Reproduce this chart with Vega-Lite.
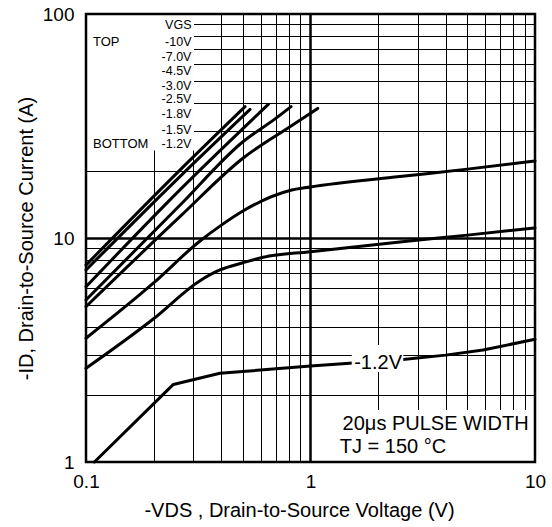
{
  "$schema": "https://vega.github.io/schema/vega-lite/v6.json",
  "width": 449,
  "height": 448,
  "autosize": "none",
  "padding": {"left": 86, "top": 14, "right": 17, "bottom": 65},
  "background": "white",
  "config": {"view": {"stroke": null}, "font": "Liberation Sans"},
  "datasets": {
    "curves": [
      {"vgs": "-10V", "vds": 0.1, "id": 7.57},
      {"vgs": "-10V", "vds": 0.262, "id": 20.1},
      {"vgs": "-10V", "vds": 0.511, "id": 38.6},
      {"vgs": "-7.0V", "vds": 0.1, "id": 7.2},
      {"vgs": "-7.0V", "vds": 0.262, "id": 18.8},
      {"vgs": "-7.0V", "vds": 0.538, "id": 37.5},
      {"vgs": "-4.5V", "vds": 0.1, "id": 6.06},
      {"vgs": "-4.5V", "vds": 0.262, "id": 16.4},
      {"vgs": "-4.5V", "vds": 0.649, "id": 39.5},
      {"vgs": "-3.0V", "vds": 0.1, "id": 5.29},
      {"vgs": "-3.0V", "vds": 0.262, "id": 14.0},
      {"vgs": "-3.0V", "vds": 0.5, "id": 26.9},
      {"vgs": "-3.0V", "vds": 0.7, "id": 34.2},
      {"vgs": "-3.0V", "vds": 0.819, "id": 38.6},
      {"vgs": "-2.5V", "vds": 0.1, "id": 4.94},
      {"vgs": "-2.5V", "vds": 0.262, "id": 12.45},
      {"vgs": "-2.5V", "vds": 0.5, "id": 22.7},
      {"vgs": "-2.5V", "vds": 0.81, "id": 31.4},
      {"vgs": "-2.5V", "vds": 1.077, "id": 37.9},
      {"vgs": "-1.8V", "vds": 0.1, "id": 3.57},
      {"vgs": "-1.8V", "vds": 0.2, "id": 6.3},
      {"vgs": "-1.8V", "vds": 0.322, "id": 9.7},
      {"vgs": "-1.8V", "vds": 0.395, "id": 11.3},
      {"vgs": "-1.8V", "vds": 0.5, "id": 13.2},
      {"vgs": "-1.8V", "vds": 0.81, "id": 16.3},
      {"vgs": "-1.8V", "vds": 1, "id": 16.9},
      {"vgs": "-1.8V", "vds": 2.5, "id": 18.8},
      {"vgs": "-1.8V", "vds": 5, "id": 20.3},
      {"vgs": "-1.8V", "vds": 10, "id": 22.1},
      {"vgs": "-1.5V", "vds": 0.1, "id": 2.62},
      {"vgs": "-1.5V", "vds": 0.2, "id": 4.36},
      {"vgs": "-1.5V", "vds": 0.322, "id": 6.45},
      {"vgs": "-1.5V", "vds": 0.395, "id": 7.2},
      {"vgs": "-1.5V", "vds": 0.5, "id": 7.75},
      {"vgs": "-1.5V", "vds": 0.615, "id": 8.2},
      {"vgs": "-1.5V", "vds": 1, "id": 8.69},
      {"vgs": "-1.5V", "vds": 2.5, "id": 9.6},
      {"vgs": "-1.5V", "vds": 5, "id": 10.3},
      {"vgs": "-1.5V", "vds": 10, "id": 11.1}
    ],
    "bottomCurve": [
      {"vgs": "-1.2V", "vds": 0.109, "id": 1.0},
      {"vgs": "-1.2V", "vds": 0.245, "id": 2.22},
      {"vgs": "-1.2V", "vds": 0.395, "id": 2.49},
      {"vgs": "-1.2V", "vds": 1, "id": 2.68},
      {"vgs": "-1.2V", "vds": 2.58, "id": 2.87},
      {"vgs": "-1.2V", "vds": 4, "id": 3.0},
      {"vgs": "-1.2V", "vds": 5.87, "id": 3.16},
      {"vgs": "-1.2V", "vds": 10, "id": 3.53}
    ],
    "masks": [
      {"vds": 0.1, "vds2": 0.3027, "id": 24.6, "id2": 100},
      {"vds": 1.526, "vds2": 2.59, "id": 2.52, "id2": 3.33},
      {"vds": 1.35, "vds2": 10, "id": 1, "id2": 1.707}
    ],
    "legendRight": [
      {"label": "VGS", "vds": 0.295, "id": 89.3},
      {"label": "-10V", "vds": 0.295, "id": 74.8},
      {"label": "-7.0V", "vds": 0.295, "id": 64.1},
      {"label": "-4.5V", "vds": 0.295, "id": 55.5},
      {"label": "-3.0V", "vds": 0.295, "id": 47.7},
      {"label": "-2.5V", "vds": 0.295, "id": 41.7},
      {"label": "-1.8V", "vds": 0.295, "id": 35.8},
      {"label": "-1.5V", "vds": 0.295, "id": 30.3},
      {"label": "-1.2V", "vds": 0.295, "id": 26.3}
    ],
    "legendLeft": [
      {"label": "TOP", "vds": 0.1074, "id": 74.8},
      {"label": "BOTTOM", "vds": 0.1074, "id": 26.3}
    ],
    "curveLabel": [
      {"label": "-1.2V", "vds": 2.0, "id": 2.76}
    ],
    "notes": [
      {"label": "20μs PULSE WIDTH", "vds": 1.39, "id": 1.483},
      {"label": "TJ = 150 °C", "vds": 1.35, "id": 1.17}
    ],
    "frame": [
      {"vds": 0.1, "vds2": 10, "id": 1, "id2": 100}
    ]
  },
  "encoding": {
    "x": {
      "field": "vds",
      "type": "quantitative",
      "scale": {"type": "log", "domain": [0.1, 10], "nice": false},
      "axis": {
        "title": "-VDS , Drain-to-Source Voltage (V)",
        "values": [0.1, 0.2, 0.3, 0.4, 0.5, 0.6, 0.7, 0.8, 0.9, 1, 2, 3, 4, 5, 6, 7, 8, 9, 10],
        "format": "~g",
        "labelExpr": "(datum.value == 0.1 || datum.value == 1 || datum.value == 10) ? datum.label : ''",
        "grid": true,
        "gridColor": "#000",
        "gridOpacity": 1,
        "gridWidth": {"condition": {"test": "datum.value == 1", "value": 2.5}, "value": 1},
        "ticks": false,
        "tickSize": 0,
        "domain": false,
        "labelFont": "Liberation Sans",
        "labelFontSize": 19,
        "labelColor": "#000",
        "labelPadding": 10,
        "labelFlush": false,
        "labelOverlap": false,
        "titleFont": "Liberation Sans",
        "titleFontSize": 20,
        "titleFontWeight": "normal",
        "titleColor": "#000",
        "titleX": 213,
        "titleY": 48,
        "titleBaseline": "middle"
      }
    },
    "y": {
      "field": "id",
      "type": "quantitative",
      "scale": {"type": "log", "domain": [1, 100], "nice": false},
      "axis": {
        "title": "-ID,  Drain-to-Source Current (A)",
        "values": [1, 2, 3, 4, 5, 6, 7, 8, 9, 10, 20, 30, 40, 50, 60, 70, 80, 90, 100],
        "format": "~g",
        "labelExpr": "(datum.value == 1 || datum.value == 10 || datum.value == 100) ? datum.label : ''",
        "grid": true,
        "gridColor": "#000",
        "gridOpacity": 1,
        "gridWidth": {"condition": {"test": "datum.value == 10", "value": 2.5}, "value": 1},
        "ticks": false,
        "tickSize": 0,
        "domain": false,
        "labelFont": "Liberation Sans",
        "labelFontSize": 19,
        "labelColor": "#000",
        "labelPadding": 12,
        "labelFlush": false,
        "labelOverlap": false,
        "titleFont": "Liberation Sans",
        "titleFontSize": 20,
        "titleFontWeight": "normal",
        "titleColor": "#000",
        "titleX": -60,
        "titleY": 224,
        "titleBaseline": "middle"
      }
    }
  },
  "layer": [
    {
      "data": {"name": "curves"},
      "mark": {"type": "line", "color": "#000", "strokeWidth": 3, "strokeCap": "round", "strokeJoin": "round", "interpolate": "monotone"},
      "encoding": {"detail": {"field": "vgs", "type": "nominal"}}
    },
    {
      "data": {"name": "bottomCurve"},
      "mark": {"type": "line", "color": "#000", "strokeWidth": 3, "strokeCap": "round", "strokeJoin": "round"},
      "encoding": {"detail": {"field": "vgs", "type": "nominal"}}
    },
    {
      "data": {"name": "masks"},
      "mark": {"type": "rect", "fill": "white", "strokeWidth": 0},
      "encoding": {"x2": {"field": "vds2"}, "y2": {"field": "id2"}}
    },
    {
      "data": {"name": "legendRight"},
      "mark": {"type": "text", "align": "right", "baseline": "middle", "fontSize": 12.5, "font": "Liberation Sans", "color": "#000"},
      "encoding": {"text": {"field": "label", "type": "nominal"}}
    },
    {
      "data": {"name": "legendLeft"},
      "mark": {"type": "text", "align": "left", "baseline": "middle", "fontSize": 13, "font": "Liberation Sans", "color": "#000"},
      "encoding": {"text": {"field": "label", "type": "nominal"}}
    },
    {
      "data": {"name": "curveLabel"},
      "mark": {"type": "text", "align": "center", "baseline": "middle", "fontSize": 20, "font": "Liberation Sans", "color": "#000"},
      "encoding": {"text": {"field": "label", "type": "nominal"}}
    },
    {
      "data": {"name": "notes"},
      "mark": {"type": "text", "align": "left", "baseline": "middle", "fontSize": 20, "font": "Liberation Sans", "color": "#000"},
      "encoding": {"text": {"field": "label", "type": "nominal"}}
    },
    {
      "data": {"name": "frame"},
      "mark": {"type": "rect", "filled": false, "stroke": "#000", "strokeWidth": 2.5},
      "encoding": {"x2": {"field": "vds2"}, "y2": {"field": "id2"}}
    }
  ]
}
